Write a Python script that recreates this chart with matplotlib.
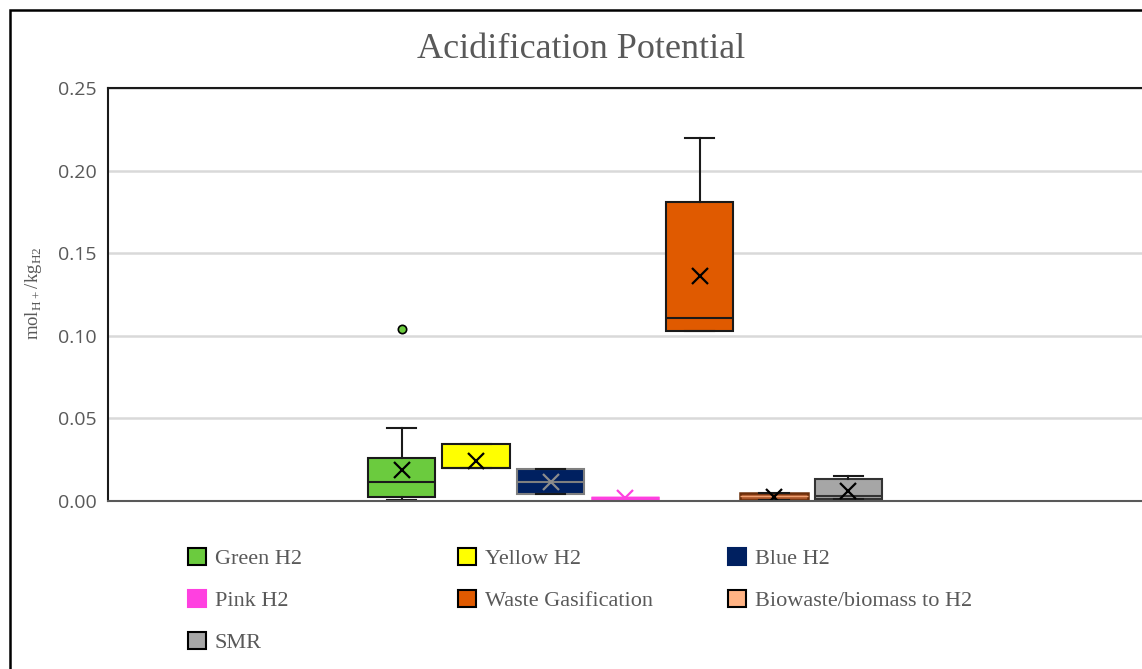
import matplotlib
matplotlib.use('Agg')
import matplotlib.pyplot as plt
from matplotlib.patches import Patch, Rectangle

# data (mol H+ / kg H2)
labels = ['Green H2', 'Yellow H2', 'Blue H2', 'Pink H2',
          'Waste Gasification', 'Biowaste/biomass to H2', 'SMR']
whis_lo = [0.0006, 0.0197, 0.0042, 0.0020, 0.1030, 0.0006, 0.0012]
q1 = [0.0024, 0.0197, 0.0042, 0.0020, 0.1030, 0.0006, 0.0012]
medians = [0.0115, 0.0197, 0.0115, 0.0020, 0.1108, 0.0030, 0.0030]
q3 = [0.0262, 0.0345, 0.0194, 0.0020, 0.1812, 0.0048, 0.0133]
whis_hi = [0.0442, 0.0345, 0.0194, 0.0020, 0.2200, 0.0048, 0.0153]
means = [0.0190, 0.0245, 0.0118, 0.0020, 0.1360, 0.0022, 0.0062]
outliers = [[0.1040], [], [], [], [], [], []]

face_colors = ['#6BCB3E', '#FFFF00', '#002060', '#FF40E0',
               '#E05A00', '#FFB384', '#A6A6A6']
edge_colors = ['#1a1a1a', '#1a1a1a', '#7f7f7f', '#FF40E0',
               '#1a1a1a', '#6b2e0a', '#333333']
mean_colors = ['black', 'black', '#8c8c8c', '#FF40E0',
               'black', 'black', 'black']

GREY_TEXT = '#595959'
SERIF = 'Liberation Serif'

fig = plt.figure(figsize=(11.42, 6.69), dpi=100)
ax = fig.add_axes([0.0946, 0.2511, 0.9054, 0.6174])

stats = []
for i in range(len(labels)):
    stats.append(dict(label=labels[i], whislo=whis_lo[i], q1=q1[i], med=medians[i],
                      q3=q3[i], whishi=whis_hi[i], mean=means[i], fliers=outliers[i]))

positions = list(range(len(labels)))
res = ax.bxp(stats, positions=positions, widths=0.91, patch_artist=True,
             showmeans=True, capwidths=0.4,
             meanprops=dict(marker='x', markersize=12, markeredgewidth=1.6),
             flierprops=dict(marker='o', markersize=6, markerfacecolor='#6BCB3E',
                             markeredgecolor='black', markeredgewidth=1.2),
             medianprops=dict(linewidth=1.5),
             whiskerprops=dict(linewidth=1.5, color='#1a1a1a'),
             capprops=dict(linewidth=1.5, color='#1a1a1a'),
             boxprops=dict(linewidth=1.5))

for i, box in enumerate(res['boxes']):
    box.set_facecolor(face_colors[i])
    box.set_edgecolor(edge_colors[i])
    res['medians'][i].set_color(edge_colors[i])
    res['means'][i].set_color(mean_colors[i])
    res['means'][i].set_markeredgecolor(mean_colors[i])
    if labels[i] == 'Pink H2':
        box.set_linewidth(2.5)
        res['medians'][i].set_linewidth(2.5)
        for art in res['whiskers'][2*i:2*i+2] + res['caps'][2*i:2*i+2]:
            art.set_visible(False)
    if labels[i] == 'Biowaste/biomass to H2':
        # tiny box: looks brown in the original because of its dark outline
        box.set_facecolor('#a8552a')
        box.set_linewidth(1.8)
        res['medians'][i].set_color('#f0a070')
        res['medians'][i].set_linewidth(1.0)

ax.set_xlim(-3.94, 9.94)
ax.set_ylim(0, 0.25)
ax.set_yticks([0, 0.05, 0.10, 0.15, 0.20, 0.25])
ax.set_yticklabels(['0.00', '0.05', '0.10', '0.15', '0.20', '0.25'])
ax.set_xticks([])
ax.tick_params(axis='y', length=0, pad=8, labelsize=14, labelcolor=GREY_TEXT)
for lab in ax.get_yticklabels():
    lab.set_fontfamily('Open Sans')

ax.grid(axis='y', color='#d9d9d9', linewidth=1.8)
ax.set_axisbelow(True)
ax.spines['right'].set_visible(False)
ax.spines['left'].set_color('#1a1a1a')
ax.spines['left'].set_linewidth(1.5)
ax.spines['top'].set_color('#1a1a1a')
ax.spines['top'].set_linewidth(1.5)
ax.spines['bottom'].set_color('#595959')
ax.spines['bottom'].set_linewidth(1.5)

fig.text(0.5088, 0.926, 'Acidification Potential', ha='center', va='center',
         fontsize=26, family=SERIF, color=GREY_TEXT)
fig.text(0.029, 0.562, r'mol$_{\mathregular{H+}}$/kg$_{\mathregular{H2}}$',
         rotation=90, ha='center', va='center', fontsize=13.5, family=SERIF,
         color=GREY_TEXT)

# legend, three columns as separate legends
columns = [[0, 3, 6], [1, 4], [2, 5]]
col_x = [0.1646, 0.401, 0.6375]
for cx, idxs in zip(col_x, columns):
    handles = []
    for i in idxs:
        ec = 'black' if labels[i] not in ('Pink H2', 'Blue H2') else face_colors[i]
        handles.append(Patch(facecolor=face_colors[i], edgecolor=ec, linewidth=1.5,
                             label=labels[i]))
    fig.legend(handles=handles, loc='upper left', bbox_to_anchor=(cx, 0.181),
               frameon=False, handlelength=0.8, handleheight=0.8, handletextpad=0.4,
               labelspacing=0.93, borderaxespad=0, borderpad=0,
               prop=dict(family=SERIF, size=16), labelcolor=GREY_TEXT)

# outer chart border (cropped at right and bottom)
fig.add_artist(Rectangle((0.0088, -0.1), 1.2, 1.085, transform=fig.transFigure,
                         fill=False, edgecolor='black', linewidth=1.8))

fig.savefig('out.png', dpi=100)
